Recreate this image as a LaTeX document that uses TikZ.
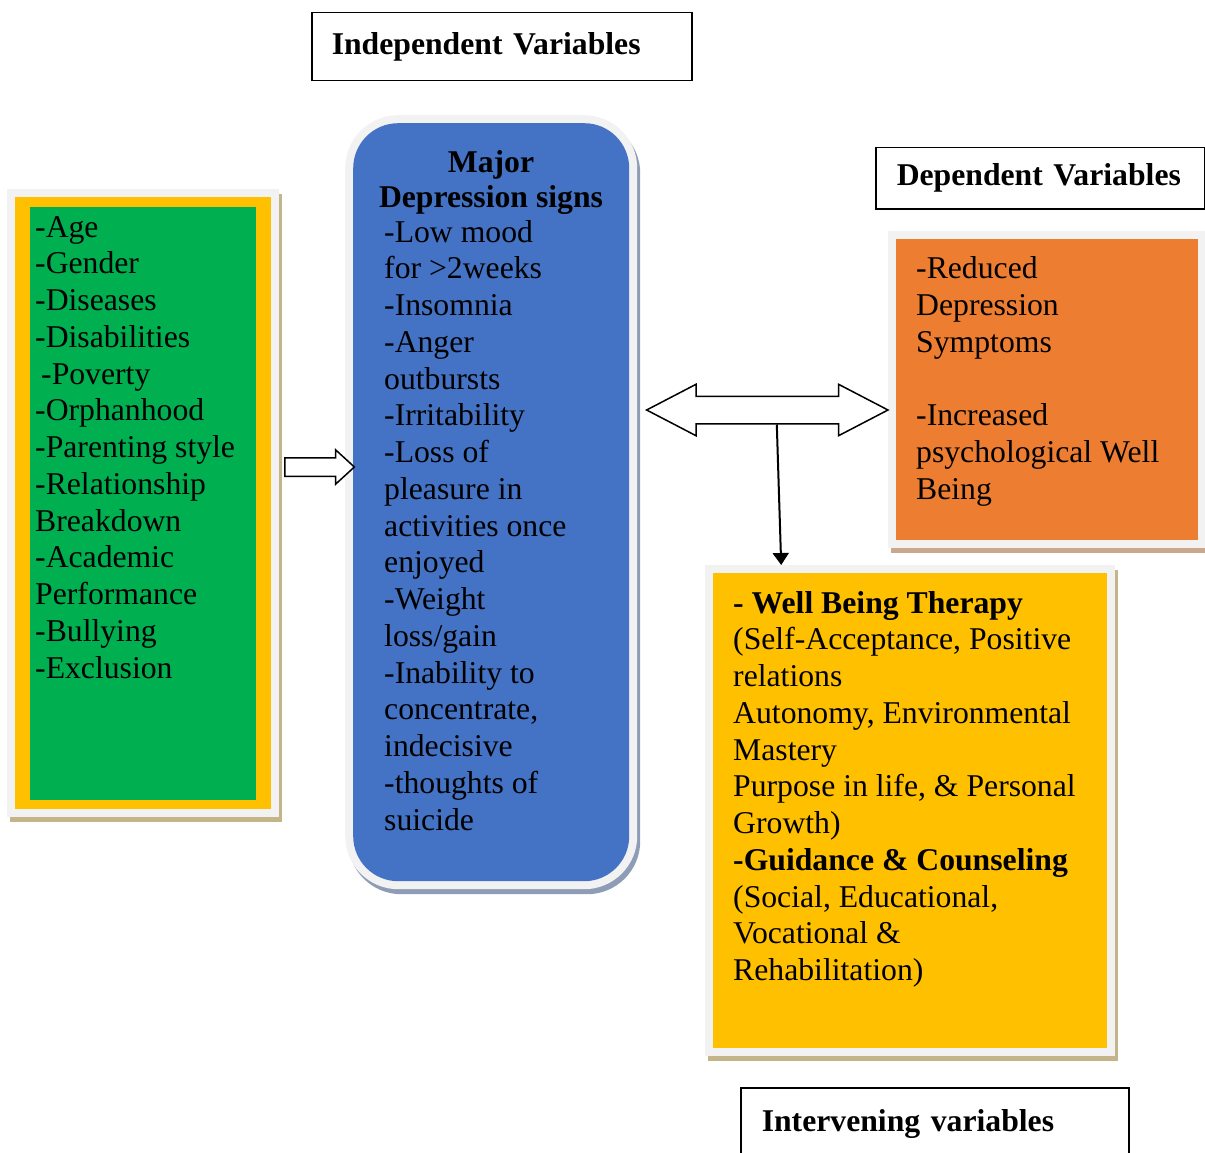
\documentclass[tikz,border=0pt]{standalone}
\usepackage{fontspec}
\setmainfont{Liberation Serif}
\usepackage{xcolor}
\usepackage{tikz}
\usetikzlibrary{shapes,arrows.meta,shadows,positioning}

\definecolor{panelgreen}{HTML}{00B050}
\definecolor{panelyellow}{HTML}{FFC000}
\definecolor{panelblue}{HTML}{4472C4}
\definecolor{panelorange}{HTML}{ED7D31}
\definecolor{framegray}{HTML}{F2F2F2}
\definecolor{shadowtan}{HTML}{C4B48A}
\definecolor{shadowblue}{HTML}{8E9CB6}
\definecolor{shadowbrown}{HTML}{C9A890}

\newcommand{\diagfont}{\fontsize{31.7pt}{36.75pt}\selectfont}

\tikzset{
  panel/.style 2 args={fill=#1, draw=none, inner sep=0pt, anchor=north west,
    general shadow={draw=#2, fill=#2, line width=16pt,
      shadow xshift=3pt, shadow yshift=-5pt},
    preaction={draw=framegray, line width=16pt}},
  heading/.style={draw, line width=1.5pt, fill=white, anchor=north west,
    align=left, inner xsep=20pt, font=\diagfont\bfseries},
  list/.style={align=left, inner sep=0pt, anchor=base west, font=\diagfont},
  block arrow/.style={draw, line width=1.5pt, fill=white, anchor=west,
    minimum width=0pt, minimum height=0pt}
}

\begin{document}
\begin{tikzpicture}[x=1pt, y=1pt]

\useasboundingbox (0,0) rectangle (1205,-1153);
\clip (0,0) rectangle (1205,-1153);

\node [panel={panelyellow}{shadowtan},
  minimum width=256pt, minimum height=612pt] (factors) at (15,-197) {};

\node [fill=panelgreen, inner sep=0pt, anchor=north west,
  minimum width=226pt, minimum height=593pt] (factors-core) at (30,-207) {};

\node [panel={panelblue}{shadowblue}, rounded corners=45pt,
  minimum width=276pt, minimum height=758pt] (signs) at (353,-123) {};

\node [panel={panelorange}{shadowbrown},
  minimum width=302pt, minimum height=301pt] (outcomes) at (896,-239) {};

\node [panel={panelyellow}{shadowtan},
  minimum width=394pt, minimum height=475pt] (therapy) at (713,-573) {};

\node [heading, text width=340pt, minimum height=68pt] (indep) at (311,-12)
  {Independent Variables};

\node [heading, inner xsep=21pt, text width=287pt, minimum height=61pt] (dep) at (875,-147)
  {Dependent Variables};

\node [heading, inner xsep=21pt, text width=346pt, minimum height=72pt] (interv) at (740,-1087)
  {Intervening variables};

\node [list] (factors-list) at (35,-678)
  {-Age\\-Gender\\-Diseases\\-Disabilities\\\hspace*{6pt}-Poverty\\-Orphanhood\\
   -Parenting style\\-Relationship\\Breakdown\\-Academic\\Performance\\-Bullying\\-Exclusion};

\node [align=center, inner sep=0pt, anchor=base, font=\fontsize{31.7pt}{35pt}\selectfont\bfseries]
  (signs-title) at (491,-207) {Major\\Depression signs};

\node [list] (signs-list) at (384,-830)
  {-Low mood\\for >2weeks\\-Insomnia\\-Anger\\outbursts\\-Irritability\\-Loss of\\
   pleasure in\\activities once\\enjoyed\\-Weight\\loss/gain\\-Inability to\\
   concentrate,\\indecisive\\-thoughts of\\suicide};

\node [list] (outcomes-list) at (916,-499)
  {-Reduced\\Depression\\Symptoms\\[36.75pt]-Increased\\psychological Well\\Being};

\node [list] (therapy-list) at (733,-980.5)
  {\textbf{- Well Being Therapy}\\(Self-Acceptance, Positive\\relations\\
   Autonomy, Environmental\\Mastery\\Purpose in life, \& Personal\\Growth)\\
   \textbf{-Guidance \& Counseling}\\(Social, Educational,\\Vocational \&\\Rehabilitation)};

\node [single arrow, block arrow, inner xsep=29pt, inner ysep=8.5pt,
  single arrow head extend=8pt, single arrow tip angle=85] (push) at (284,-467) {};

\node [double arrow, block arrow, inner xsep=93.5pt, inner ysep=13pt,
  double arrow head extend=12pt, double arrow tip angle=55] (link) at (645,-410) {};

\draw [line width=2pt, -{Triangle[width=16pt, length=12pt]}]
  ([xshift=9.5pt]link.south) -- ([xshift=-129pt, yshift=8pt]therapy.north);

\end{tikzpicture}
\end{document}
